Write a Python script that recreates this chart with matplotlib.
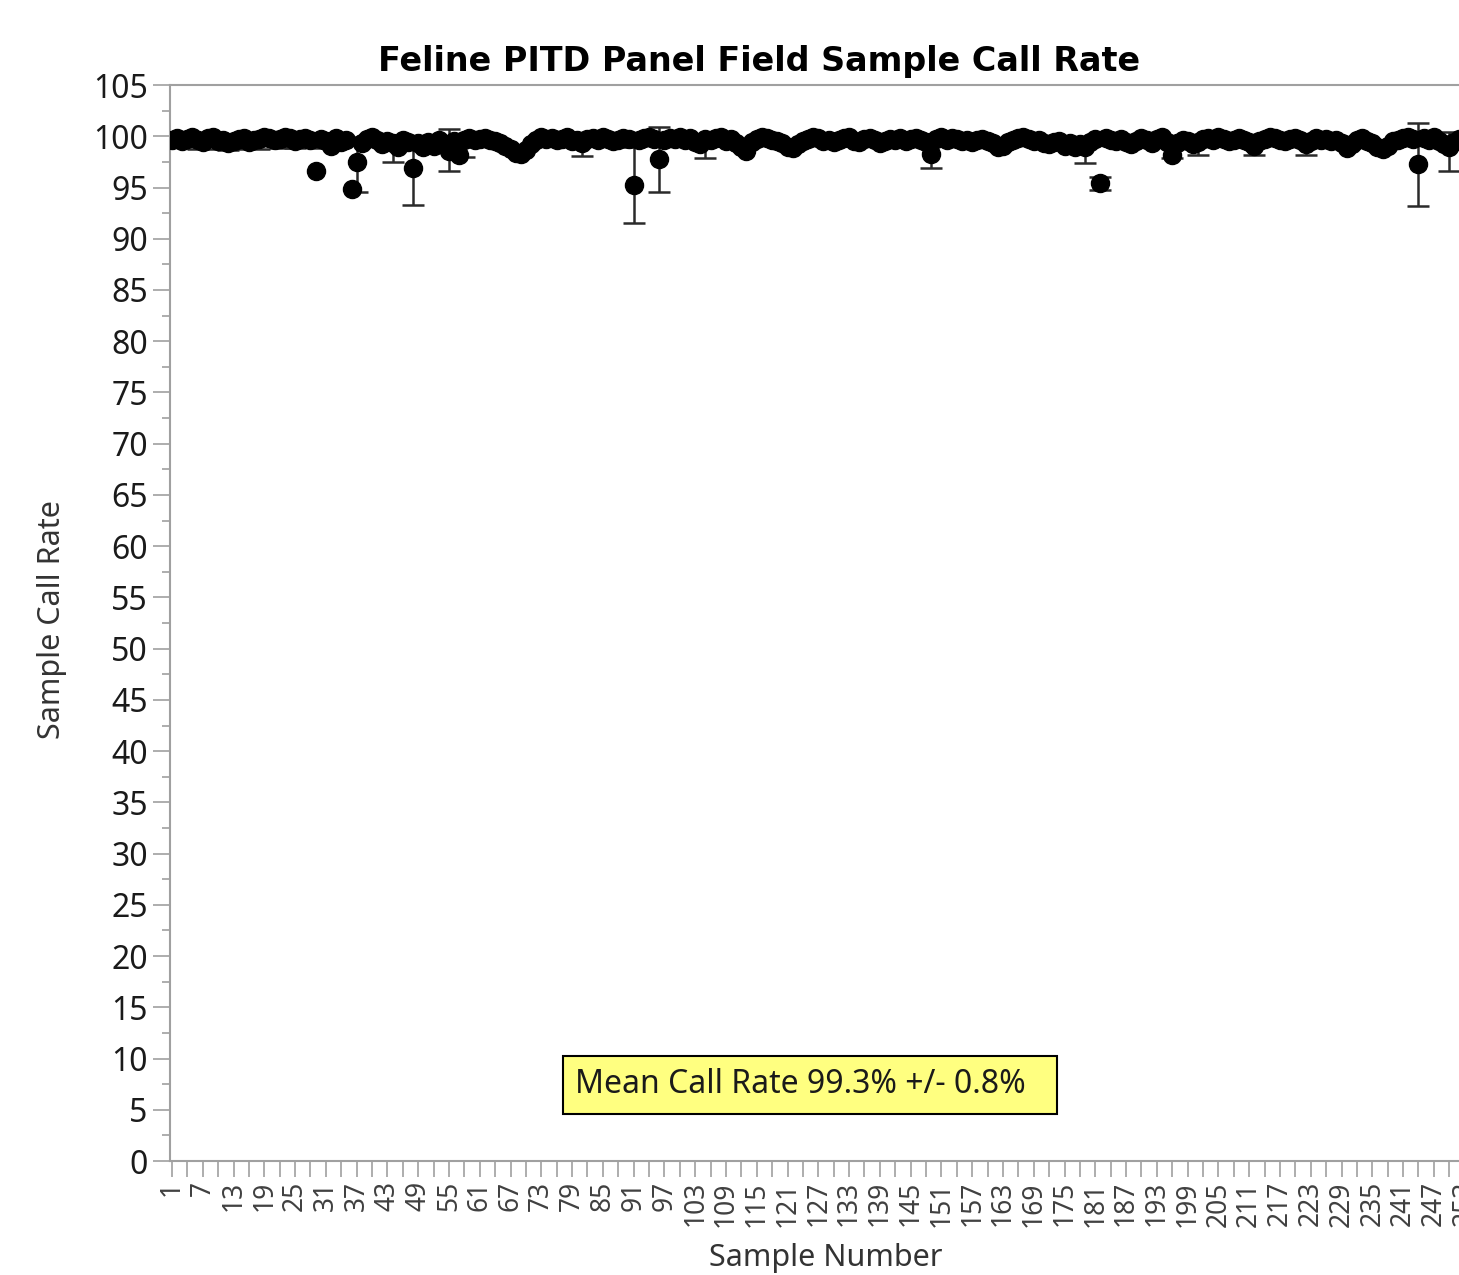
import numpy as np
import matplotlib.pyplot as plt
from matplotlib.patches import Rectangle

plt.rcParams['font.family'] = ['Noto Sans', 'DejaVu Sans']

# Sample call rates (%), samples 1..256
call_rate = [
    99.6, 99.8, 99.5, 99.7, 99.9, 99.6, 99.4, 99.8, 99.9, 99.5,
    99.6, 99.3, 99.5, 99.7, 99.8, 99.4, 99.6, 99.7, 99.9, 99.8,
    99.6, 99.7, 99.9, 99.8, 99.5, 99.7, 99.8, 99.6, 96.6, 99.7,
    99.5, 99.1, 99.8, 99.4, 99.6, 94.9, 97.5, 99.3, 99.7, 99.9,
    99.6, 99.2, 99.5, 99.3, 99.0, 99.6, 99.4, 96.9, 99.3, 99.0,
    99.4, 99.1, 99.6, 99.2, 98.6, 99.5, 98.2, 99.6, 99.8, 99.6,
    99.7, 99.8, 99.6, 99.5, 99.3, 99.1, 98.8, 98.4, 98.3, 98.7,
    99.2, 99.6, 99.9, 99.7, 99.8, 99.6, 99.7, 99.9, 99.5, 99.6,
    99.3, 99.7, 99.8, 99.6, 99.9, 99.7, 99.5, 99.6, 99.8, 99.7,
    95.2, 99.6, 99.8, 99.9, 99.7, 97.8, 99.6, 99.8, 99.7, 99.9,
    99.6, 99.8, 99.4, 99.2, 99.7, 99.6, 99.8, 99.9, 99.5, 99.7,
    99.3, 99.0, 98.6, 99.4, 99.7, 99.9, 99.8, 99.6, 99.5, 99.3,
    99.0, 98.9, 99.2, 99.5, 99.7, 99.9, 99.8, 99.5, 99.6, 99.4,
    99.6, 99.8, 99.9, 99.5, 99.4, 99.7, 99.8, 99.6, 99.3, 99.5,
    99.7, 99.6, 99.8, 99.5, 99.7, 99.8, 99.6, 99.4, 98.3, 99.7,
    99.9, 99.6, 99.8, 99.7, 99.5, 99.6, 99.4, 99.6, 99.7, 99.5,
    99.3, 99.0, 99.1, 99.4, 99.6, 99.8, 99.9, 99.7, 99.5, 99.6,
    99.3, 99.2, 99.4, 99.5, 99.1, 99.3, 99.0, 99.2, 99.0, 99.4,
    99.7, 95.4, 99.8, 99.6, 99.5, 99.7, 99.4, 99.2, 99.5, 99.8,
    99.6, 99.3, 99.7, 99.9, 99.4, 98.2, 99.3, 99.6, 99.5, 99.2,
    99.4, 99.7, 99.8, 99.6, 99.9, 99.7, 99.5, 99.6, 99.8, 99.6,
    99.4, 99.1, 99.5, 99.7, 99.9, 99.8, 99.6, 99.5, 99.7, 99.8,
    99.6, 99.2, 99.5, 99.8, 99.6, 99.7, 99.5, 99.6, 99.3, 98.9,
    99.2, 99.6, 99.8, 99.5, 99.3, 99.0, 98.8, 99.1, 99.5, 99.6,
    99.8, 99.9, 99.7, 97.3, 99.8, 99.6, 99.9, 99.5, 99.2, 99.0,
    99.4, 99.7, 99.6, 99.8, 99.5, 99.7,
]
samples = np.arange(1, len(call_rate) + 1)

# samples whose error bars show outside the band of dots
err_samples = [6, 9, 12, 15, 18, 22, 25, 30, 37, 44, 48, 55, 58, 81, 91, 96,
               105, 149, 179, 182, 196, 201, 212, 222, 244, 250]
err_lower = [98.8, 98.8, 98.7, 98.8, 98.8, 98.9, 98.9, 98.9, 94.6, 97.5, 93.3, 96.6, 98.0, 98.1, 91.5, 94.6,
             97.9, 96.9, 97.4, 94.8, 97.9, 98.2, 98.2, 98.2, 93.2, 96.6]
err_upper = [100.2, 100.3, 100.1, 100.3, 100.2, 100.3, 100.2, 100.3, 99.9, 99.8, 99.6, 100.7, 99.9, 99.9, 99.0, 100.9,
             99.9, 99.6, 99.8, 96.0, 99.0, 99.8, 99.8, 99.9, 101.3, 100.4]

mean_text = 'Mean Call Rate 99.3% +/- 0.8%'

fig = plt.figure(figsize=(14.59, 12.75), dpi=100)
ax = fig.add_axes([0.1165, 0.0894, 0.919, 0.8439])

rate = np.array(call_rate)
idx = np.array(err_samples) - 1
ax.errorbar(err_samples, rate[idx],
            yerr=[rate[idx] - np.array(err_lower), np.array(err_upper) - rate[idx]],
            fmt='none', ecolor='#2a2a2a', elinewidth=1.8, capsize=8, capthick=1.8, zorder=2)
ax.plot(samples, call_rate, 'o', color='black', ms=13, zorder=3)

ax.set_xlim(0.61, 262)
ax.set_ylim(0, 105)
ax.set_yticks(np.arange(0, 106, 5))
ax.set_yticks(np.arange(2.5, 105, 5), minor=True)
ax.set_xticks(np.arange(1, 262, 6))
ax.set_xticks(np.arange(4, 262, 6), minor=True)
ax.tick_params(axis='y', which='major', length=12, width=1.2, color='#a0a0a0', labelsize=23, labelcolor='#1a1a1a', pad=4)
ax.tick_params(axis='y', which='minor', length=6, width=1.2, color='#a0a0a0')
ax.tick_params(axis='x', which='both', length=11.5, width=1.2, color='#a0a0a0', labelsize=19, labelcolor='#404040', labelrotation=90, pad=3)

for s in ['left', 'bottom', 'top']:
    ax.spines[s].set_color('#a0a0a0')
    ax.spines[s].set_linewidth(1.5)
ax.spines['right'].set_visible(False)

fig.text(759 / 1459, 1 - 62 / 1275, 'Feline PITD Panel Field Sample Call Rate',
         ha='center', va='center', fontsize=24, fontweight='bold', family=['DejaVu Sans'])
fig.text(826 / 1459, 1 - 1258 / 1275, 'Sample Number', ha='center', va='center', fontsize=22, color='#333333')
fig.text(52 / 1459, 1 - 620 / 1275, 'Sample Call Rate', ha='center', va='center',
         rotation=90, fontsize=22, color='#333333')

# yellow note box
ax.add_patch(Rectangle((77.3, 4.6), 96.3, 5.65, facecolor='#ffff80', edgecolor='black', linewidth=1.5, zorder=4))
ax.text(79.6, 7.42, mean_text, ha='left', va='center', fontsize=23, color='#1a1a1a', zorder=5)

fig.savefig('out.png', dpi=100)
